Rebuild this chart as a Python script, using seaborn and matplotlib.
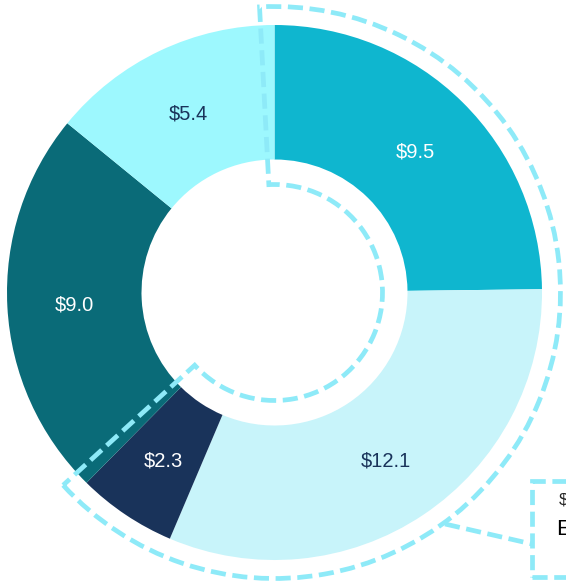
import matplotlib
matplotlib.use("Agg")
import matplotlib.pyplot as plt
import seaborn as sns
import numpy as np
from matplotlib.patches import Wedge, Rectangle

sns.set_theme(style="white")
plt.rcParams['font.family'] = ['Liberation Sans', 'DejaVu Sans']

values = [9.5, 12.1, 2.3, 9.0, 5.4]
labels = ["$9.5", "$12.1", "$2.3", "$9.0", "$5.4"]
colors = ["#0FB6CF", "#C8F4FA", "#19335A", "#0A6B78", "#9DF8FE"]
label_colors = ["white", "#19335A", "white", "white", "#19335A"]
highlight_idx = [0, 1, 2]
callout_lines = ["$23.9", "Enterprise"]

W, H = 566, 582
fig = plt.figure(figsize=(W / 100, H / 100), dpi=100)
ax = fig.add_axes([0, 0, 1, 1])

cx, cy = 274.5, H - 292.5
r_out, r_in = 267.5, 133

wedges, _ = ax.pie(values, colors=colors, startangle=90, counterclock=False,
                   radius=r_out, center=(cx, cy),
                   wedgeprops=dict(width=r_out - r_in, linewidth=0))
ax.set_xlim(0, W)
ax.set_ylim(0, H)
ax.set_aspect("equal")
ax.axis("off")

r_mid = (r_out + r_in) / 2
for w, lab, lc in zip(wedges, labels, label_colors):
    ang = np.deg2rad((w.theta1 + w.theta2) / 2)
    ax.text(cx + r_mid * np.cos(ang), cy + r_mid * np.sin(ang), lab,
            ha="center", va="center_baseline", color=lc, fontsize=14.5)

# dashed outline around highlighted group
hw = [wedges[i] for i in highlight_idx]
t_lo = min(w.theta1 for w in hw)
t_hi = max(w.theta2 for w in hw)
pad = 3
dash_col = "#8EEAF8"
dash_ls = (0, (3.2, 1.4))
outline = Wedge((cx, cy), 286, t_lo - pad, t_hi + pad, width=286 - 108,
                fill=False, edgecolor=dash_col, linewidth=3.4,
                linestyle=dash_ls, zorder=5)
ax.add_patch(outline)

# callout
ax.plot([445, 532], [H - 524, H - 544], color=dash_col, linewidth=3.4,
        linestyle=dash_ls, zorder=5)
ax.add_patch(Rectangle((532, H - 577), 100, 96, fill=False, edgecolor=dash_col,
                       linewidth=3.4, linestyle=dash_ls, zorder=5))
ax.text(559, H - 500, callout_lines[0], ha="left", va="center", fontsize=12,
        color="#222222")
ax.text(556, H - 530, callout_lines[1], ha="left", va="center", fontsize=16,
        color="black")

fig.savefig("out.png", dpi=100)
